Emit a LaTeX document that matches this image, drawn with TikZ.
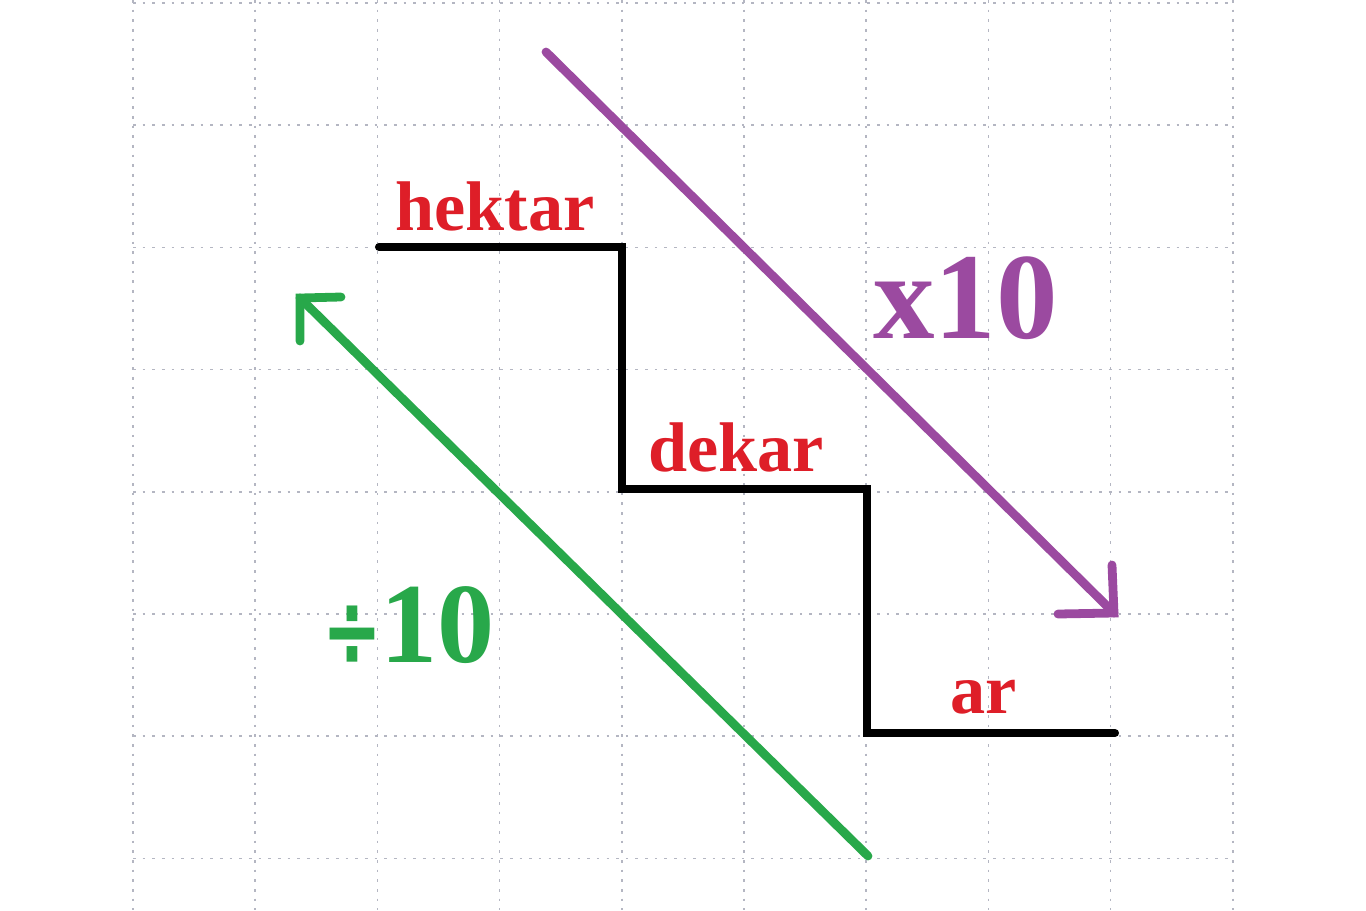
\documentclass[tikz,border=0pt]{standalone}
\usepackage{fontspec}
\setmainfont{Liberation Serif}
\newfontfamily\symbfont{DejaVu Sans}
\definecolor{gridgray}{RGB}{180,182,194}
\definecolor{unitred}{RGB}{222,30,40}
\definecolor{mulpurple}{RGB}{155,74,160}
\definecolor{divgreen}{RGB}{40,168,74}
\begin{document}
\begin{tikzpicture}[x=0.02cm,y=-0.02cm,
  gridline/.style={gridgray,line width=0.9pt,dash pattern=on 1.5pt off 4pt},
  stair/.style={black,line width=4.6pt,line cap=round,line join=miter},
  unitlabel/.style={text=unitred,font=\fontsize{40}{48}\selectfont\bfseries,inner sep=0pt,anchor=base west},
  mularrow/.style={mulpurple,line width=5pt,line cap=round,line join=miter},
  divarrow/.style={divgreen,line width=5pt,line cap=round,line join=miter}]
\useasboundingbox (0,0) rectangle (1366,910);
\fill[white] (0,0) rectangle (1366,910);
% grid
\foreach \i in {0,...,9}{
  \draw[gridline] ({133+122.2*\i},0) -- ({133+122.2*\i},910);
}
\foreach \j in {0,...,7}{
  \draw[gridline] (133,{3+122.2*\j}) -- (1233,{3+122.2*\j});
}
% stairs
\coordinate (s0) at (379,247);
\coordinate (s1) at (622,247);
\coordinate (s2) at (622,489);
\coordinate (s3) at (867,489);
\coordinate (s4) at (867,733);
\coordinate (s5) at (1115,733);
\draw[stair] (s0) -- (s1) -- (s2) -- (s3) -- (s4) -- (s5);
% labels
\node[unitlabel] (hektar) at (395,230) {hektar};
\node[unitlabel] (dekar) at (648,471) {dekar};
\node[unitlabel] (ar) at (950,713) {ar};
% purple arrow
\coordinate (pstart) at (546,52);
\coordinate (ptip) at (1114,613);
\coordinate (parm1) at (1112,565);
\coordinate (parm2) at (1058,614);
\draw[mularrow] (pstart) -- (ptip);
\draw[mularrow] (parm1) -- (ptip) -- (parm2);
\node[text=mulpurple,font=\fontsize{70}{80}\selectfont\bfseries,inner sep=0pt,anchor=base west] (mul) at (873,338) {x10};
% green arrow
\coordinate (gstart) at (868,856);
\coordinate (gtip) at (300,298);
\coordinate (garm1) at (341,297);
\coordinate (garm2) at (300,341);
\draw[divarrow] (gstart) -- (gtip);
\draw[divarrow] (garm1) -- (gtip) -- (garm2);
\node[text=divgreen,font=\fontsize{65}{75}\selectfont\bfseries,inner sep=0pt,anchor=base west] (div) at (322,662) {\raisebox{-2.5pt}{\scalebox{1.07}[1.55]{\symbfont\fontsize{38}{40}\selectfont\bfseries ÷}}\kern-1pt 10};
\end{tikzpicture}
\end{document}
